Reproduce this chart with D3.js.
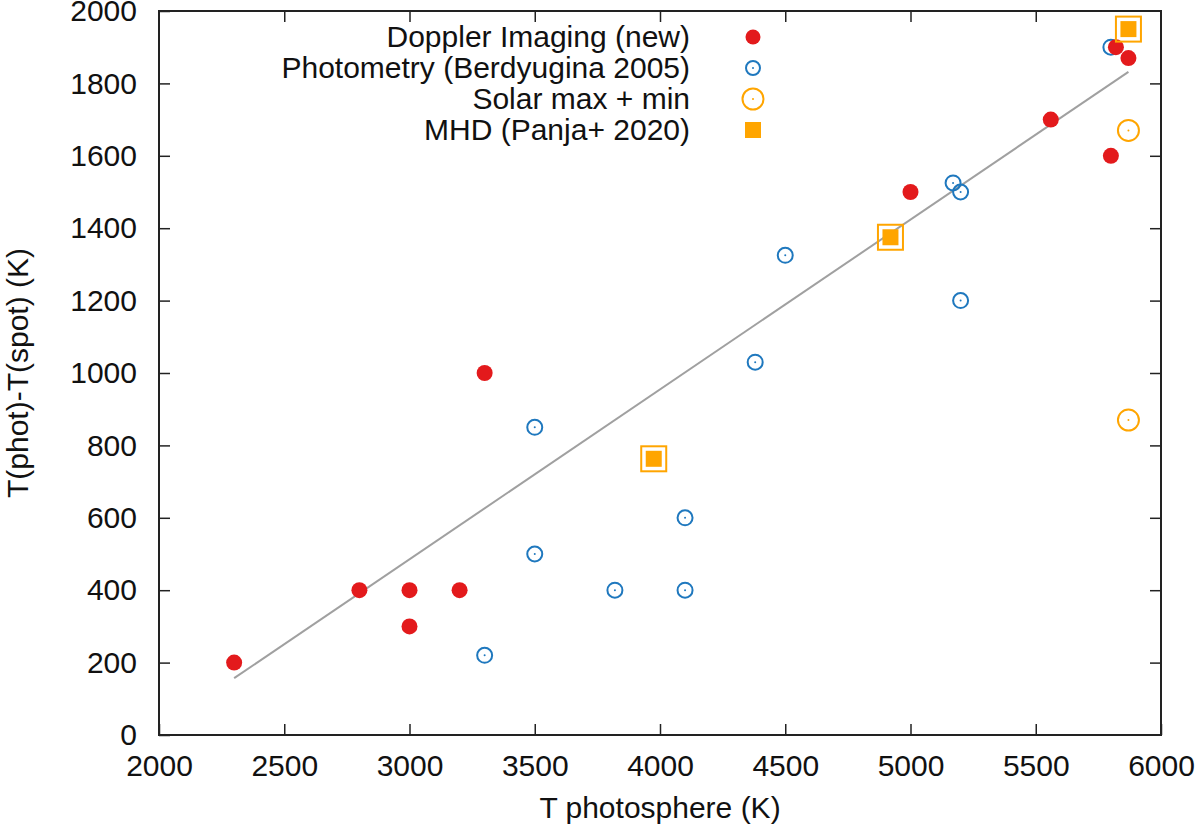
<!DOCTYPE html>
<html>
<head>
<meta charset="utf-8">
<script src="https://cdn.jsdelivr.net/npm/d3@7"></script>
<style>
  body { margin: 0; background: #fff; }
  svg { display: block; font-family: "Liberation Sans", Arial, Helvetica, sans-serif; }
</style>
</head>
<body>
<div id="chart"></div>
<script>
// Données
const dopplerT = [2300, 2800, 3000, 3000, 3200, 3300, 5000, 5560, 5800, 5820, 5870];
const dopplerDT = [200, 400, 400, 300, 400, 1000, 1500, 1700, 1600, 1900, 1870];

const photT = [3300, 3500, 3500, 3820, 4100, 4100, 4380, 4500, 5170, 5200, 5200, 5800];
const photDT = [220, 500, 850, 400, 400, 600, 1030, 1325, 1525, 1500, 1200, 1900];

const solarT = [5870, 5870];
const solarDT = [1670, 870];

const mhdT = [3975, 4920, 5870];
const mhdDT = [763, 1375, 1950];

// droite d'ajustement (extrémités)
const fitT = [2300, 5870];
const fitDT = [157, 1832];

const xTicks = [2000, 2500, 3000, 3500, 4000, 4500, 5000, 5500, 6000];
const yTicks = [0, 200, 400, 600, 800, 1000, 1200, 1400, 1600, 1800, 2000];

const legendLabels = ["Doppler Imaging (new)", "Photometry (Berdyugina 2005)", "Solar max + min", "MHD (Panja+ 2020)"];

const width = 1200, height = 829;
const red = "#e31a1c", blue = "#1f78be", orange = "#ffa500";
const fontSize = "30px";

const svg = d3.select("#chart").append("svg")
    .attr("width", width)
    .attr("height", height);

const x = d3.scaleLinear().domain([2000, 6000]).range([159, 1161]);
const y = d3.scaleLinear().domain([0, 2000]).range([735, 11]);

// axes (ticks vers l'intérieur, en miroir)
function styleAxis(g) {
    g.select(".domain").remove();
    g.selectAll(".tick line").attr("stroke", "#222").attr("stroke-width", 1.5);
    g.selectAll(".tick text").attr("fill", "#111").style("font-size", fontSize);
}

svg.append("g")
    .attr("transform", "translate(0," + y(0) + ")")
    .call(d3.axisBottom(x).tickValues(xTicks).tickSize(-11).tickPadding(20).tickFormat(d3.format("d")))
    .call(styleAxis);

svg.append("g")
    .attr("transform", "translate(0," + y(2000) + ")")
    .call(d3.axisTop(x).tickValues(xTicks.slice(1, -1)).tickSize(-11).tickFormat(""))
    .call(styleAxis);

svg.append("g")
    .attr("transform", "translate(" + x(2000) + ",0)")
    .call(d3.axisLeft(y).tickValues(yTicks).tickSize(-11).tickPadding(22).tickFormat(d3.format("d")))
    .call(styleAxis);

svg.append("g")
    .attr("transform", "translate(" + x(6000) + ",0)")
    .call(d3.axisRight(y).tickValues(yTicks.slice(1, -1)).tickSize(-11).tickFormat(""))
    .call(styleAxis);

// cadre
svg.append("rect")
    .attr("x", x(2000))
    .attr("y", y(2000))
    .attr("width", x(6000) - x(2000))
    .attr("height", y(0) - y(2000))
    .attr("fill", "none")
    .attr("stroke", "#222")
    .attr("stroke-width", 2);

// titres des axes
svg.append("text")
    .attr("x", 660)
    .attr("y", 818)
    .attr("text-anchor", "middle")
    .style("font-size", fontSize)
    .attr("fill", "#111")
    .text("T photosphere (K)");

svg.append("text")
    .attr("transform", "translate(28,373) rotate(-90)")
    .attr("text-anchor", "middle")
    .style("font-size", fontSize)
    .attr("fill", "#111")
    .text("T(phot)-T(spot) (K)");

// droite d'ajustement
svg.append("path")
    .datum(d3.range(fitT.length))
    .attr("d", d3.line().x(i => x(fitT[i])).y(i => y(fitDT[i])))
    .attr("fill", "none")
    .attr("stroke", "#a0a0a0")
    .attr("stroke-width", 2);

// cercles ouverts avec point central
function openCircles(g, xs, ys, r, color) {
    const idx = d3.range(xs.length);
    g.selectAll(null).data(idx).enter().append("circle")
        .attr("cx", i => x(xs[i]))
        .attr("cy", i => y(ys[i]))
        .attr("r", r)
        .attr("fill", "none")
        .attr("stroke", color)
        .attr("stroke-width", 2);
    g.selectAll(null).data(idx).enter().append("circle")
        .attr("cx", i => x(xs[i]))
        .attr("cy", i => y(ys[i]))
        .attr("r", 1)
        .attr("fill", color);
}

const marks = svg.append("g");

openCircles(marks.append("g"), photT, photDT, 7.5, blue);

marks.append("g").selectAll("circle")
    .data(d3.range(dopplerT.length))
    .enter().append("circle")
        .attr("cx", i => x(dopplerT[i]))
        .attr("cy", i => y(dopplerDT[i]))
        .attr("r", 8)
        .attr("fill", red);

openCircles(marks.append("g"), solarT, solarDT, 10.5, orange);

const mhd = marks.append("g");
mhd.selectAll(".outer")
    .data(d3.range(mhdT.length))
    .enter().append("rect")
        .attr("class", "outer")
        .attr("x", i => x(mhdT[i]) - 12.5)
        .attr("y", i => y(mhdDT[i]) - 12.5)
        .attr("width", 25)
        .attr("height", 25)
        .attr("fill", "none")
        .attr("stroke", orange)
        .attr("stroke-width", 2);
mhd.selectAll(".inner")
    .data(d3.range(mhdT.length))
    .enter().append("rect")
        .attr("class", "inner")
        .attr("x", i => x(mhdT[i]) - 8)
        .attr("y", i => y(mhdDT[i]) - 8)
        .attr("width", 16)
        .attr("height", 16)
        .attr("fill", orange);

// légende
const legend = svg.append("g");
const rowY = [37, 68, 99, 130];
legend.selectAll("text")
    .data(legendLabels)
    .enter().append("text")
        .attr("x", 690)
        .attr("y", (d, i) => rowY[i] + 10)
        .attr("text-anchor", "end")
        .style("font-size", fontSize)
        .attr("fill", "#111")
        .text(d => d);

const lx = 753;
legend.append("circle").attr("cx", lx).attr("cy", rowY[0]).attr("r", 7.5).attr("fill", red);
legend.append("circle").attr("cx", lx).attr("cy", rowY[1]).attr("r", 7).attr("fill", "none").attr("stroke", blue).attr("stroke-width", 2);
legend.append("circle").attr("cx", lx).attr("cy", rowY[1]).attr("r", 1).attr("fill", blue);
legend.append("circle").attr("cx", lx).attr("cy", rowY[2]).attr("r", 10.5).attr("fill", "none").attr("stroke", orange).attr("stroke-width", 2);
legend.append("circle").attr("cx", lx).attr("cy", rowY[2]).attr("r", 1).attr("fill", orange);
legend.append("rect").attr("x", lx - 8).attr("y", rowY[3] - 8).attr("width", 16).attr("height", 16).attr("fill", orange);
</script>
</body>
</html>
